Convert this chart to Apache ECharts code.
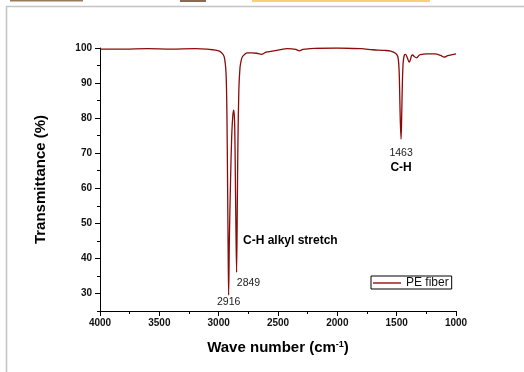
<!DOCTYPE html>
<html>
<head>
<meta charset="utf-8">
<script src="https://cdn.jsdelivr.net/npm/echarts@6/dist/echarts.min.js"></script>
<style>html,body{margin:0;padding:0;background:#fff}#c{width:524px;height:372px}</style>
</head>
<body>
<div id="c"></div>
<script>
// Wavenumbers (cm-1) and transmittance (%)
const wavenumbers = [4000,3800,3600,3400,3200,3100,3050,3000,2980,2960,2950,2940,2935,2930,2925,2920,2916,2910,2900,2890,2880,2872,2865,2860,2855,2849,2843,2838,2830,2820,2810,2800,2780,2760,2720,2680,2640,2600,2500,2420,2350,2320,2290,2200,2000,1800,1700,1600,1550,1510,1490,1480,1475,1470,1463,1458,1452,1445,1435,1425,1410,1395,1385,1375,1365,1350,1330,1315,1300,1250,1180,1130,1100,1070,1030,1000];
const transmittance = [99.7,99.7,99.8,99.7,99.8,99.7,99.5,99.2,98.8,98.0,97.0,94,90,80,62,42,29.5,45,62,75,81,82.3,78,65,50,36,55,72,88,94.5,96.5,97.5,98.2,98.6,98.6,98.5,98.2,98.8,99.4,99.8,99.6,99.2,99.6,99.9,100.0,99.8,99.5,99.3,99.1,98.5,97.5,94,88,80,74,80,90,96,98,98.2,97.2,96.0,96.6,97.8,98.0,97.5,97.2,97.8,98.1,98.3,98.3,97.9,97.4,97.8,98.1,98.3];
const xTicks = [1000,1500,2000,2500,3000,3500,4000];
const yTickLabels = [30,40,50,60,70,80,90,100];
const seriesName = 'PE fiber';
const peakLabels = ['2916','2849','1463'];
const bandLabels = ['C-H alkyl stretch','C-H'];

const FONT = 'Arial, "Liberation Sans", sans-serif';
const data = wavenumbers.map((w,i)=>[w, transmittance[i]]);
const plain = v => String(v);

const chart = echarts.init(document.getElementById('c'), null, {renderer:'canvas'});
chart.setOption({
  backgroundColor:'#fff',
  animation:false,
  graphic:[
    {type:'rect', shape:{x:6.5,y:6.5,width:530,height:400}, style:{fill:'none',stroke:'#c4c4c4',lineWidth:1.5}, silent:true},
    {type:'rect', shape:{x:10,y:0,width:73,height:1.5}, style:{fill:'#9a7a5a'}, silent:true},
    {type:'rect', shape:{x:180,y:0,width:26,height:2}, style:{fill:'#8a6a50'}, silent:true},
    {type:'rect', shape:{x:252,y:0,width:178,height:2}, style:{fill:'#f9cf7a'}, silent:true}
  ],
  grid:{left:100,right:68,top:48,bottom:61},
  legend:{
    data:[seriesName], left:371, top:276, orient:'horizontal',
    borderColor:'#000', borderWidth:1, padding:[1,3,0,2],
    icon:'rect', itemWidth:28, itemHeight:2, itemGap:4,
    itemStyle:{color:'#b85454'},
    textStyle:{fontFamily:FONT,fontSize:12,color:'#111'}
  },
  xAxis:{
    type:'value', inverse:true, min:1000, max:4000, interval:500,
    axisLine:{show:true,onZero:false,lineStyle:{color:'#000',width:1}},
    axisTick:{show:true,inside:false,length:5,lineStyle:{color:'#000'}},
    minorTick:{show:true,splitNumber:2,length:3,lineStyle:{color:'#000'}},
    splitLine:{show:false},
    axisLabel:{fontFamily:FONT,fontSize:10,fontWeight:'bold',color:'#111',margin:7,
      customValues: xTicks, formatter: plain},
    name:'Wave number (cm{sup|-1})', nameLocation:'middle', nameGap:29,
    nameTextStyle:{fontFamily:FONT,fontSize:15,fontWeight:'bold',color:'#000',
      rich:{sup:{fontFamily:FONT,fontSize:9,fontWeight:'bold',verticalAlign:'top',padding:[0,0,6,0],color:'#000'}}}
  },
  yAxis:[{
    type:'value', min:25, max:100, interval:5,
    axisLine:{show:true,onZero:false,lineStyle:{color:'#000',width:1}},
    axisTick:{show:true,inside:false,length:5,lineStyle:{color:'#000'},customValues:yTickLabels},
    splitLine:{show:false},
    axisLabel:{fontFamily:FONT,fontSize:10,fontWeight:'bold',color:'#111',margin:8,customValues:yTickLabels,formatter:plain},
    name:'Transmittance (%)', nameLocation:'middle', nameGap:52, nameRotate:90,
    nameTextStyle:{fontFamily:FONT,fontSize:15,fontWeight:'bold',color:'#000'}
  },{
    type:'value', min:25, max:100, interval:5, position:'left',
    axisLine:{show:false},
    axisTick:{show:true,inside:false,length:3,lineStyle:{color:'#000'}},
    axisLabel:{show:false}, splitLine:{show:false}
  }],
  series:[{
    name:seriesName, type:'line', data:data, yAxisIndex:0,
    symbol:'none', smooth:0.3,
    lineStyle:{color:'#8b0a0a',width:1.3},
    itemStyle:{color:'#a83030'},
    markPoint:{
      symbol:'circle', symbolSize:0, silent:true,
      data:[
        {coord:[2916,27.4], label:{show:true,position:'inside',formatter:peakLabels[0],fontFamily:FONT,fontSize:10.5,color:'#222'}},
        {coord:[2847,33], label:{show:true,position:'right',distance:0,formatter:peakLabels[1],fontFamily:FONT,fontSize:10.5,color:'#222'}},
        {coord:[1463,70], label:{show:true,position:'inside',formatter:peakLabels[2],fontFamily:FONT,fontSize:10.5,color:'#222'}},
        {coord:[2795,45], label:{show:true,position:'right',distance:0,formatter:bandLabels[0],fontFamily:FONT,fontSize:12,fontWeight:'bold',color:'#000'}},
        {coord:[1463,66], label:{show:true,position:'inside',formatter:bandLabels[1],fontFamily:FONT,fontSize:12,fontWeight:'bold',color:'#000'}}
      ]
    }
  }]
});
</script>
</body>
</html>
